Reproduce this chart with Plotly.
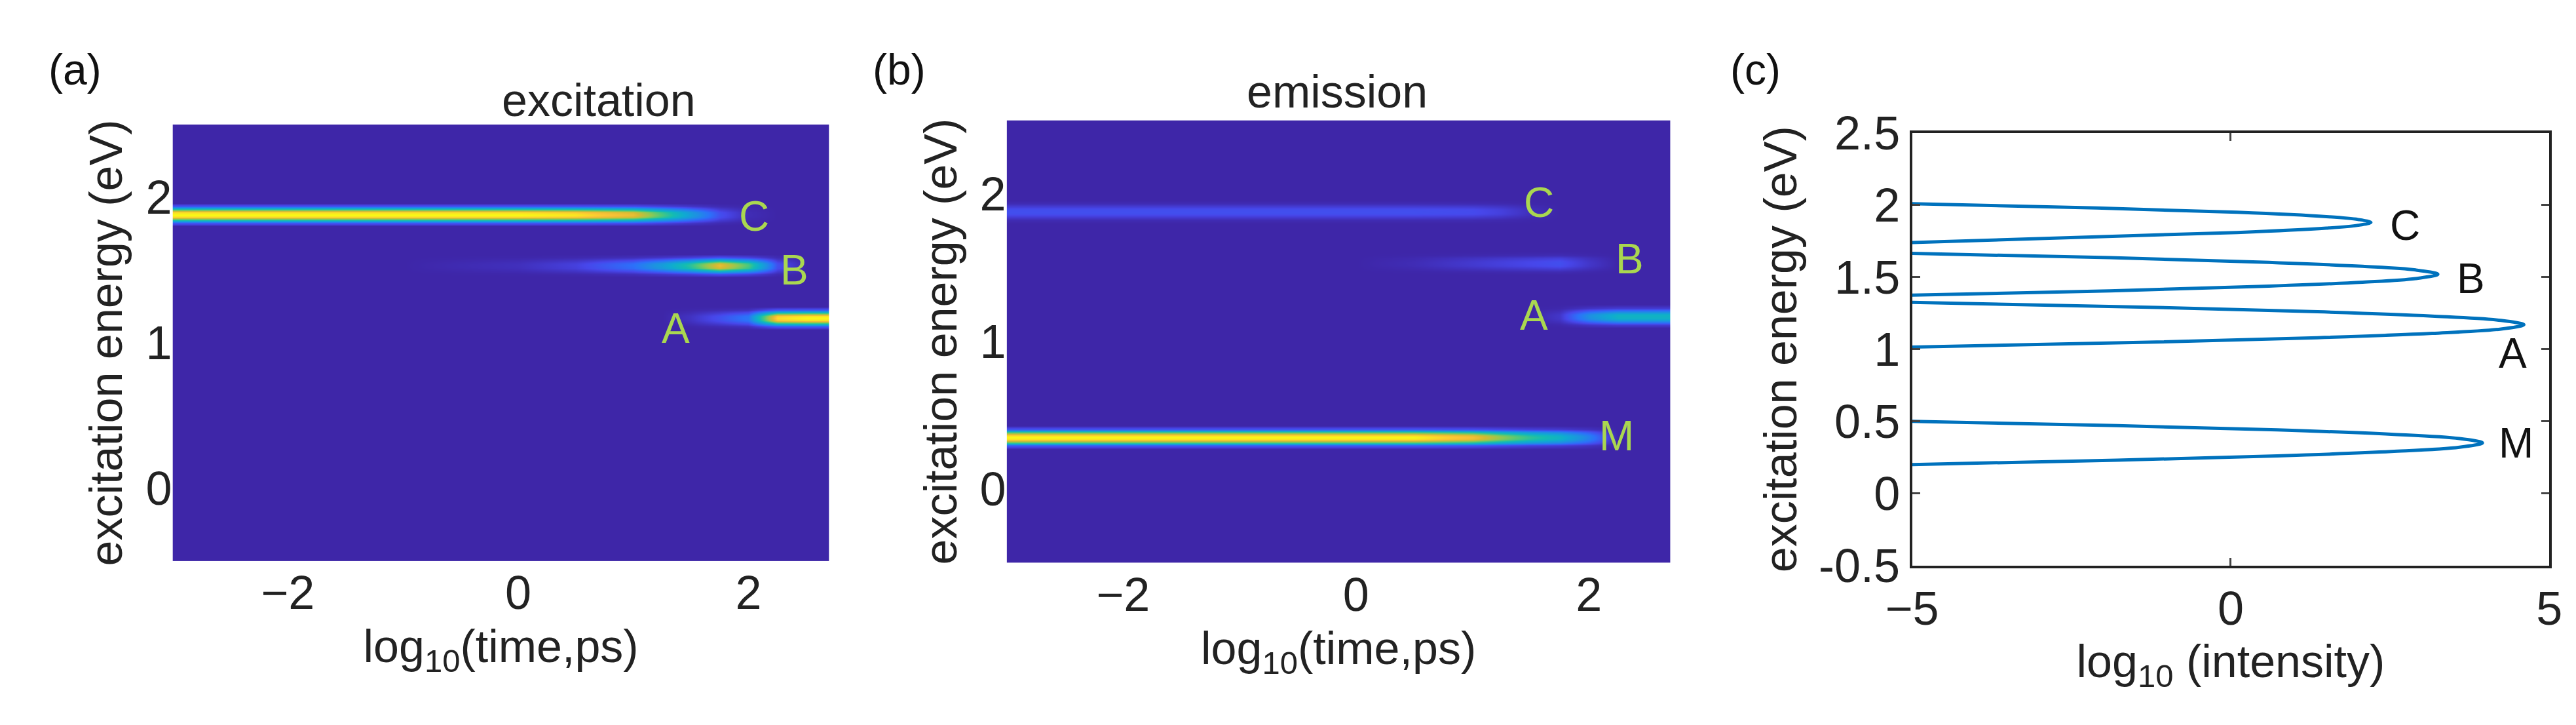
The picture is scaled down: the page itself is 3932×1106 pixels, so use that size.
import plotly.graph_objects as go

# ---------------- data ----------------
times = [-3, -2, -1, 0, 0.5, 1, 1.25, 1.5, 1.75, 2, 2.25, 2.5, 2.7]
band_energy = {"C": 1.88, "B": 1.53, "A": 1.17, "M": 0.35}

# panel (a) excitation: band intensity vs log10(time)
exc_C = [1, 1, 1, 1, 0.97, 0.85, 0.6, 0.35, 0.12, 0.02, 0, 0, 0]
exc_B = [0, 0, 0, 0.03, 0.08, 0.2, 0.35, 0.55, 0.85, 0.6, 0.12, 0, 0]
exc_A = [0, 0, 0, 0, 0, 0, 0, 0.04, 0.12, 0.22, 0.95, 1, 1]
exc_M = [0] * 13
# panel (b) emission
emi_C = [0.12, 0.12, 0.12, 0.12, 0.12, 0.11, 0.08, 0.03, 0, 0, 0, 0, 0]
emi_B = [0, 0, 0, 0, 0.02, 0.06, 0.08, 0.1, 0.12, 0.05, 0, 0, 0]
emi_A = [0, 0, 0, 0, 0, 0, 0, 0, 0.05, 0.3, 0.45, 0.45, 0.45]
emi_M = [1, 1, 1, 1, 1, 0.88, 0.7, 0.55, 0.45, 0.25, 0, 0, 0]

# band cross-section (energy offset, relative weight)
band_offsets = [-0.08, -0.055, -0.035, -0.015, 0, 0.015, 0.035, 0.055, 0.08]
band_weights = [0, 0.15, 0.6, 0.95, 1, 0.95, 0.6, 0.15, 0]

# panel (c) spectrum: log10 intensity vs energy
c_E = [2.01, 1.98, 1.95, 1.92, 1.90, 1.88, 1.86, 1.84, 1.81, 1.78, 1.74]
c_I = [-5, -2.1, 0.1, 1.5, 2.0, 2.2, 2.0, 1.5, 0.1, -2.1, -5]
b_E = [1.665, 1.635, 1.605, 1.575, 1.55, 1.52, 1.49, 1.465, 1.435, 1.405, 1.375]
b_I = [-5, -1.9, 0.43, 2.07, 2.9, 3.25, 2.9, 2.07, 0.43, -1.9, -5]
a_E = [1.325, 1.29, 1.26, 1.23, 1.20, 1.17, 1.14, 1.11, 1.08, 1.05, 1.015]
a_I = [-5, -1.16, 1.36, 3.16, 4.24, 4.6, 4.24, 3.16, 1.36, -1.16, -5]
m_E = [0.50, 0.47, 0.44, 0.41, 0.38, 0.35, 0.32, 0.29, 0.26, 0.23, 0.20]
m_I = [-5, -1.78, 0.73, 2.52, 3.59, 3.95, 3.59, 2.52, 0.73, -1.78, -5]

time_ticks = [-2, 0, 2]
energy_ticks_map = [0, 1, 2]
energy_ticks_c = [-0.5, 0, 0.5, 1, 1.5, 2, 2.5]
energy_ticktext_c = ["-0.5", "0", "0.5", "1", "1.5", "2", "2.5"]
intensity_ticks = [-5, 0, 5]

# ---------------- build heatmap grids ----------------
def build(profiles):
    ys = [-0.5]
    rows = [[0] * len(times)]
    for name in ["M", "A", "B", "C"]:
        e0 = band_energy[name]
        prof = profiles[name]
        for off, w in zip(band_offsets, band_weights):
            ys.append(e0 + off)
            rows.append([w * p for p in prof])
    ys.append(2.5)
    rows.append([0] * len(times))
    return ys, rows

ya, za = build({"C": exc_C, "B": exc_B, "A": exc_A, "M": exc_M})
yb, zb = build({"C": emi_C, "B": emi_B, "A": emi_A, "M": emi_M})

parula = [
    [0.0, "rgb(62,38,168)"], [0.1, "rgb(71,71,235)"], [0.2, "rgb(44,113,250)"],
    [0.3, "rgb(30,145,225)"], [0.4, "rgb(15,170,210)"], [0.5, "rgb(20,188,178)"],
    [0.6, "rgb(75,200,125)"], [0.7, "rgb(150,200,80)"], [0.8, "rgb(215,186,50)"],
    [0.9, "rgb(252,195,55)"], [1.0, "rgb(249,251,21)"],
]

fig = go.Figure()
fig.add_trace(go.Heatmap(x=times, y=ya, z=za, colorscale=parula, zmin=0, zmax=1,
                         zsmooth="best", showscale=False, xaxis="x", yaxis="y"))
fig.add_trace(go.Heatmap(x=times, y=yb, z=zb, colorscale=parula, zmin=0, zmax=1,
                         zsmooth="best", showscale=False, xaxis="x2", yaxis="y2"))
for E, I in [(c_E, c_I), (b_E, b_I), (a_E, a_I), (m_E, m_I)]:
    fig.add_trace(go.Scatter(x=I, y=E, mode="lines", line=dict(color="#0072BD", width=5, shape="spline"),
                             showlegend=False, xaxis="x3", yaxis="y3", cliponaxis=True))

FONT = "Liberation Sans, Arial, sans-serif"
tickf = dict(family=FONT, size=72, color="#222")
titf = dict(family=FONT, size=70, color="#222")
xt = "log<sub>10</sub>(time,ps)"
yt = "excitation energy (eV)"

common_map_x = dict(range=[-3, 2.7], tickvals=time_ticks, ticks="", showgrid=False, zeroline=False,
                    showline=False, tickfont=tickf, title=dict(text=xt, font=titf, standoff=18))
common_map_y = dict(range=[-0.5, 2.5], tickvals=energy_ticks_map, ticks="", showgrid=False, zeroline=False,
                    showline=False, tickfont=tickf, title=dict(text=yt, font=titf, standoff=12))

fig.update_layout(
    width=3932, height=1106, margin=dict(l=0, r=0, t=0, b=0),
    paper_bgcolor="white", plot_bgcolor="white", showlegend=False,
    xaxis=dict(domain=[0.0554, 0.3143], anchor="y", **common_map_x),
    yaxis=dict(domain=[0.2125, 0.8617], anchor="x", **common_map_y),
    xaxis2=dict(domain=[0.3843, 0.6460], anchor="y2", **common_map_x),
    yaxis2=dict(domain=[0.2098, 0.8680], anchor="x2", **common_map_y),
    xaxis3=dict(domain=[0.7413, 0.9926], anchor="y3", range=[-5, 5], tickvals=intensity_ticks,
                ticks="inside", ticklen=12, tickwidth=3, showgrid=False, zeroline=False,
                showline=True, linecolor="#222", linewidth=4, mirror="ticks", tickfont=tickf,
                title=dict(text="log<sub>10</sub> (intensity)", font=titf, standoff=18)),
    yaxis3=dict(domain=[0.2061, 0.8490], anchor="x3", range=[-0.5, 2.5], tickvals=energy_ticks_c,
                ticktext=energy_ticktext_c,
                ticks="inside", ticklen=12, tickwidth=3, showgrid=False, zeroline=False,
                showline=True, linecolor="#222", linewidth=4, mirror="ticks", tickfont=tickf,
                title=dict(text=yt, font=titf, standoff=12)),
)

green = "rgb(170,215,80)"
labf_g = dict(family=FONT, size=64, color=green)
labf_k = dict(family=FONT, size=64, color="#111")
ann = []
for t, x, y in [("C", 2.05, 1.87), ("B", 2.4, 1.5), ("A", 1.37, 1.1)]:
    ann.append(dict(text=t, x=x, y=y, xref="x", yref="y", showarrow=False, font=labf_g))
for t, x, y in [("C", 1.57, 1.94), ("B", 2.35, 1.56), ("A", 1.53, 1.18), ("M", 2.24, 0.36)]:
    ann.append(dict(text=t, x=x, y=y, xref="x2", yref="y2", showarrow=False, font=labf_g))
for t, x, y in [("C", 2.73, 1.86), ("B", 3.77, 1.49), ("A", 4.43, 0.97), ("M", 4.48, 0.35)]:
    ann.append(dict(text=t, x=x, y=y, xref="x3", yref="y3", showarrow=False, font=labf_k))
for t, x in [("(a)", 0.006), ("(b)", 0.331), ("(c)", 0.669)]:
    ann.append(dict(text=t, x=x, y=0.943, xref="paper", yref="paper", xanchor="left", yanchor="middle",
                    showarrow=False, font=dict(family=FONT, size=66, color="#111")))
ann.append(dict(text="excitation", x=0.1846, y=0.898, xref="paper", yref="paper", yanchor="middle",
                showarrow=False, font=titf))
ann.append(dict(text="emission", x=0.5145, y=0.91, xref="paper", yref="paper", yanchor="middle",
                showarrow=False, font=titf))
fig.update_layout(annotations=ann)

fig.write_html("out.html")
